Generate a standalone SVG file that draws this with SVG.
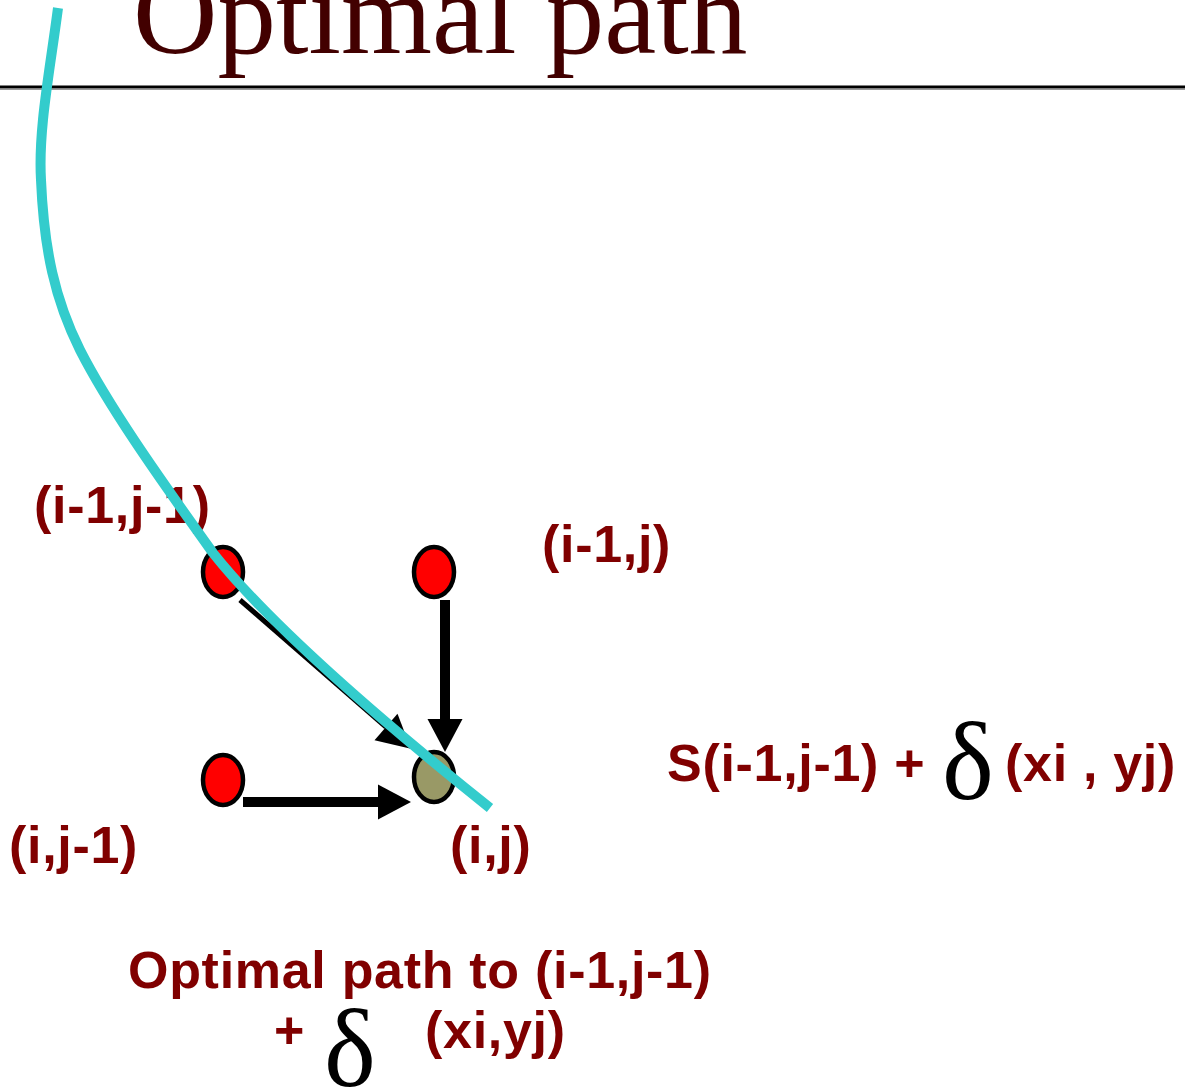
<svg xmlns="http://www.w3.org/2000/svg" width="1185" height="1088" viewBox="0 0 1185 1088">
<style>
.lbl{font-family:"Liberation Sans",Arial,sans-serif;font-weight:bold;font-size:52px;fill:#800000;letter-spacing:0.7px}
.dlt{font-family:"Liberation Serif","Times New Roman",serif;font-size:110px;fill:#000}
.title{font-family:"Liberation Serif","Times New Roman",serif;font-size:117px;fill:#420000}
.node{stroke:#000;stroke-width:4.5}
.red{fill:#FF0000}
.cur{fill:#999966}
.conn line{stroke:#000;stroke-linecap:butt}
</style>
<defs>
<marker id="ah" markerUnits="userSpaceOnUse" markerWidth="34" markerHeight="36" refX="0" refY="17.5" orient="auto" overflow="visible">
<path d="M0,0 L33,17.5 L0,35 Z" fill="#000"/>
</marker>
</defs>
<rect width="1185" height="1088" fill="#fff"/>
<g id="title">
<text class="title" x="133" y="53">Optimal path</text>
<line x1="0" y1="89.5" x2="1185" y2="89.5" stroke="#999" stroke-width="1"/>
<line x1="0" y1="87" x2="1185" y2="87" stroke="#000" stroke-width="3"/>
</g>
<g id="connectors" class="conn">
<line x1="445" y1="600" x2="445" y2="719" stroke-width="10" marker-end="url(#ah)"/>
<line x1="243" y1="802" x2="378" y2="802" stroke-width="10" marker-end="url(#ah)"/>
<line x1="240" y1="600" x2="386" y2="727" stroke-width="5" marker-end="url(#ah)"/>
</g>
<g id="node-i-1-j-1">
<ellipse class="node red" cx="223" cy="572" rx="20" ry="25"/>
<text class="lbl" x="34" y="523">(i-1,j-1)</text>
</g>
<g id="node-i-1-j">
<ellipse class="node red" cx="434" cy="572" rx="20" ry="25"/>
<text class="lbl" x="542" y="562">(i-1,j)</text>
</g>
<g id="node-i-j-1">
<ellipse class="node red" cx="223" cy="780" rx="20" ry="25"/>
<text class="lbl" x="9" y="863">(i,j-1)</text>
</g>
<g id="node-i-j">
<ellipse class="node cur" cx="434" cy="777" rx="20" ry="25"/>
<text class="lbl" x="450" y="863">(i,j)</text>
</g>
<g id="path-curve">
<path d="M58,8 C50,70 38,130 41,180 C44,250 55,300 80,350 C108,405 155,472 213,553 C270,625 380,720 490,808" fill="none" stroke="#33CCCC" stroke-width="10"/>
</g>
<g id="formula">
<text class="lbl" x="667" y="781">S(i-1,j-1) +</text>
<text class="dlt" x="942" y="799">δ</text>
<text class="lbl" x="1005" y="781">(xi , yj)</text>
</g>
<g id="caption">
<text class="lbl" x="128" y="988">Optimal path to (i-1,j-1)</text>
<text class="lbl" x="274" y="1048">+</text>
<text class="dlt" x="324" y="1086">δ</text>
<text class="lbl" x="425" y="1048">(xi,yj)</text>
</g>
</svg>
